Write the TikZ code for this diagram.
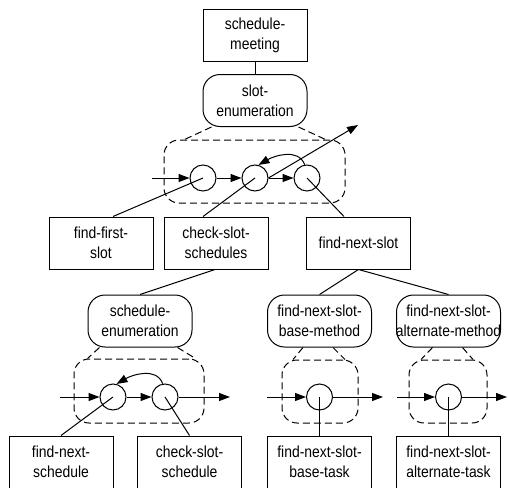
\documentclass[tikz,border=0pt]{standalone}
\usepackage{fontspec}
\setmainfont{Liberation Sans}[FakeStretch=0.87]
\usetikzlibrary{arrows.meta}

\begin{document}
\begin{tikzpicture}[x=1pt, y=-1pt, line width=1pt]
  \tikzstyle{task} = [draw=black, minimum width=104pt, minimum height=52pt, inner sep=0pt, align=center, font=\fontsize{16}{20}\selectfont]
  \tikzstyle{method} = [task, rounded corners=17pt]
  \tikzstyle{group} = [draw=black, dash pattern=on 7pt off 4pt, rounded corners=15pt]
  \tikzstyle{knot} = [circle, draw=black, minimum size=26pt, inner sep=0pt]
  \tikzstyle{straight} = [-]
  \tikzstyle{dashline} = [-, dash pattern=on 7pt off 4pt]
  \tikzstyle{flow} = [-{Triangle[length=11pt, width=8pt]}]

  \useasboundingbox (0,0) rectangle (508,487);

  \node[task] (meet) at (255,35.5) {schedule-\\meeting};
  \node[method] (slotenum) at (255,100.5) {slot-\\enumeration};
  \node[group, minimum width=181pt, minimum height=63pt] (g1) at (254.5,171.5) {};
  \node[knot] (c1) at (203,178) {};
  \node[knot] (c2) at (255,178) {};
  \node[knot] (c3) at (307,178) {};
  \coordinate (in1) at (152,178);
  \coordinate (out1) at (358,125);
  \node[task] (firstslot) at (101,243) {find-first-\\slot};
  \node[task] (chkslots) at (216,243) {check-slot-\\schedules};
  \node[task] (nextslot) at (358.5,243) {find-next-slot};

  \node[method] (schedenum) at (140,321) {schedule-\\enumeration};
  \node[group, minimum width=130pt, minimum height=64pt] (g2) at (139,391) {};
  \node[knot] (d1) at (113,397) {};
  \node[knot] (d2) at (165,397) {};
  \coordinate (in2) at (60,397);
  \coordinate (out2) at (230,397);
  \node[task] (nextsched) at (61,462) {find-next-\\schedule};
  \node[task] (chksched) at (189.5,462) {check-slot-\\schedule};

  \node[method] (basemeth) at (319.5,321) {find-next-slot-\\base-method};
  \node[group, minimum width=76pt, minimum height=63pt] (g3) at (320,391.5) {};
  \node[knot] (e1) at (319.5,397) {};
  \coordinate (in3) at (267,397);
  \coordinate (out3) at (383,397);
  \node[task] (basetask) at (319.5,462) {find-next-slot-\\base-task};

  \node[method] (altmeth) at (448.5,321) {find-next-slot-\\\makebox[0pt]{alternate-method}};
  \node[group, minimum width=78pt, minimum height=63pt] (g4) at (448,391.5) {};
  \node[knot] (f1) at (448.5,397) {};
  \coordinate (in4) at (397,397);
  \coordinate (out4) at (507,397);
  \node[task] (alttask) at (448.5,462) {find-next-slot-\\alternate-task};

  % top level
  \draw[straight] (meet) -- (slotenum);
  \draw[dashline] ([xshift=9pt]slotenum.south west) -- ([xshift=21pt]g1.north west);
  \draw[dashline] ([xshift=-9pt]slotenum.south east) -- ([xshift=-20pt]g1.north east);
  \draw[flow] (in1) -- (c1);
  \draw[flow] (c1) -- (c2);
  \draw[flow] (c2) -- (c3);
  \draw[flow] (c3.100) to[out=110, in=30] (c2.75);
  \draw[flow] (c2.east) -- (out1);
  \draw[straight] (c1.center) -- ([xshift=12pt]firstslot.north);
  \draw[straight] (c2.center) -- ([xshift=-13pt]chkslots.north);
  \draw[straight] (c3.center) -- ([xshift=-14.5pt]nextslot.north);

  \draw[straight] ([xshift=-1pt]chkslots.south) -- (schedenum.north);
  \draw[straight] (nextslot.south) -- (basemeth.north);
  \draw[straight] (nextslot.south) -- (altmeth.north);

  % schedule enumeration
  \draw[dashline] ([xshift=12pt]schedenum.south west) -- ([xshift=14pt]g2.north west);
  \draw[dashline] ([xshift=-15pt]schedenum.south east) -- ([xshift=-9pt]g2.north east);
  \draw[flow] (in2) -- (d1);
  \draw[flow] (d1) -- (d2);
  \draw[flow] (d2) -- (out2);
  \draw[flow] (d2.100) to[out=110, in=30] (d1.75);
  \draw[straight] (d1.center) -- (nextsched.north);
  \draw[straight] (d2.center) -- (chksched.north);

  % base method
  \draw[dashline] ([xshift=-16.5pt]basemeth.south) -- ([xshift=-27pt]g3.north);
  \draw[dashline] ([xshift=13.5pt]basemeth.south) -- ([xshift=25pt]g3.north);
  \draw[flow] (in3) -- (e1);
  \draw[flow] (e1) -- (out3);
  \draw[straight] (e1.center) -- (basetask.north);

  % alternate method
  \draw[dashline] ([xshift=-16pt]altmeth.south) -- ([xshift=-27pt]g4.north);
  \draw[dashline] ([xshift=14pt]altmeth.south) -- ([xshift=25pt]g4.north);
  \draw[flow] (in4) -- (f1);
  \draw[flow] (f1) -- (out4);
  \draw[straight] (f1.center) -- (alttask.north);
\end{tikzpicture}
\end{document}
